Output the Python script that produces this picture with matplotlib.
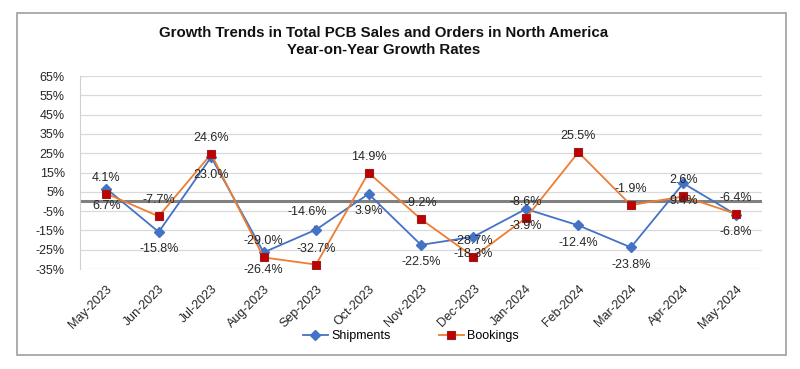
import matplotlib
matplotlib.use('Agg')
import matplotlib.pyplot as plt
from matplotlib.patches import Rectangle
import numpy as np

plt.rcParams['font.family'] = ['Liberation Sans', 'DejaVu Sans']

# data
months = ['May-2023', 'Jun-2023', 'Jul-2023', 'Aug-2023', 'Sep-2023', 'Oct-2023',
          'Nov-2023', 'Dec-2023', 'Jan-2024', 'Feb-2024', 'Mar-2024', 'Apr-2024', 'May-2024']
shipments = [6.7, -15.8, 23.0, -26.4, -14.6, 3.9, -22.5, -18.3, -3.9, -12.4, -23.8, 9.4, -6.8]
bookings = [4.1, -7.7, 24.6, -29.0, -32.7, 14.9, -9.2, -28.7, -8.6, 25.5, -1.9, 2.6, -6.4]
yticks = list(range(-35, 66, 10))

blue = '#4472C4'
orange = '#ED7D31'
red = '#C00000'
txt = '#262626'

fig = plt.figure(figsize=(8, 3.69), dpi=100)
ax = fig.add_axes([0.1, 0.271, 0.8525, 0.523])

x = np.arange(len(months))

ax.axhline(0, color='#808080', lw=2.2, zorder=1)
ax.plot(x, shipments, color=blue, lw=1.3, marker='D', ms=4.8, mfc=blue, mec=blue,
        label='Shipments', zorder=3)
ax.plot(x, bookings, color=orange, lw=1.3, marker='s', ms=6.2, mfc=red, mec='#9B1C1C',
        mew=0.8, label='Bookings', zorder=4)

# labels: shipments below, bookings above (Sep shipments moved up)
for i, v in enumerate(shipments):
    if months[i] == 'Sep-2023':
        ax.annotate(f'{v:.1f}%', (x[i], v), xytext=(-6, 12.5), textcoords='offset points',
                    ha='center', va='center', fontsize=9, color=txt,
                    arrowprops=dict(arrowstyle='-', color='#595959', lw=0.7,
                                    shrinkA=4, shrinkB=2), zorder=6)
    else:
        ax.annotate(f'{v:.1f}%', (x[i], v), xytext=(0, -12.6), textcoords='offset points',
                    ha='center', va='center', fontsize=9, color=txt, zorder=6)
for i, v in enumerate(bookings):
    ax.annotate(f'{v:.1f}%', (x[i], v), xytext=(0, 11.5), textcoords='offset points',
                ha='center', va='center', fontsize=9, color=txt, zorder=6)

ax.set_xlim(-0.5, len(months) - 0.5)
ax.set_ylim(-35, 65)
ax.set_yticks(yticks)
ax.set_yticklabels([f'{t}%' for t in yticks], fontsize=9, color=txt)
ax.grid(axis='y', color='#D9D9D9', lw=0.9)
ax.set_axisbelow(True)
ax.tick_params(axis='y', length=0, pad=11)
ax.set_xticks(x)
ax.set_xticklabels(months, rotation=45, ha='right', rotation_mode='anchor',
                   fontsize=9, color=txt)
ax.tick_params(axis='x', length=0, pad=10)
for s in ['top', 'right', 'bottom']:
    ax.spines[s].set_visible(False)
ax.spines['left'].set_color('#D0D0D0')

fig.text(0.48, 1 - 41.5 / 369, 'Growth Trends in Total PCB Sales and Orders in North America\nYear-on-Year Growth Rates',
         ha='center', va='center', fontsize=10.8, fontweight='bold', color='#111111',
         linespacing=1.2)

fig.legend(loc='center', bbox_to_anchor=(411 / 800, 1 - 336 / 369), ncol=2, frameon=False,
           fontsize=9, handlelength=2.0, columnspacing=3.8, handletextpad=0.3)

fig.add_artist(Rectangle((17 / 800, 1 - 355 / 369), (786 - 17) / 800, (355 - 13) / 369,
                         transform=fig.transFigure, fill=False, ec='#A6A6A6', lw=1.3))

fig.savefig('out.png', dpi=100)
